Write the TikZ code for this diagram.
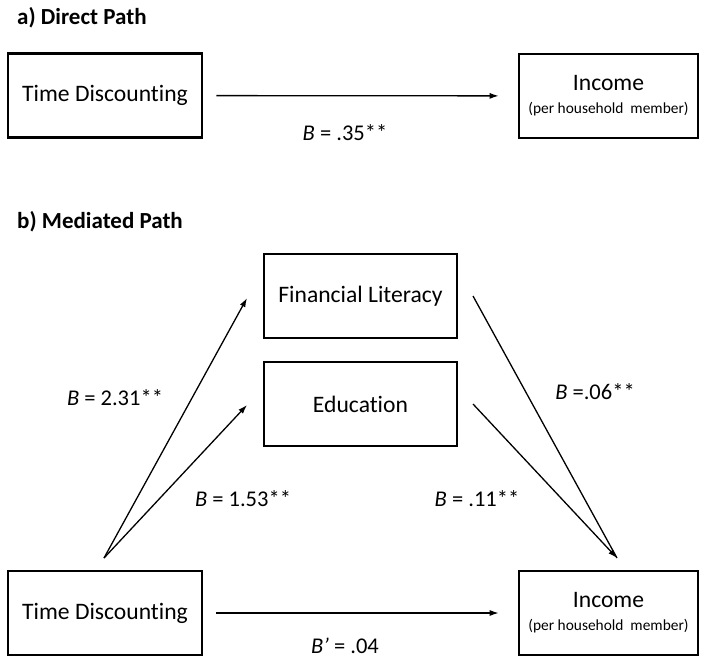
\documentclass[tikz,border=0pt]{standalone}
\usepackage{fontspec}
\setmainfont{Carlito}[Ligatures=NoCommon]
\usetikzlibrary{arrows.meta}
\newcommand{\subtxt}[1]{{\fontsize{15.4}{17}\selectfont #1}}
\begin{document}
\begin{tikzpicture}[x=1pt,y=-1pt,
  box/.style={draw,line width=2.6pt,minimum height=84pt,inner sep=0pt,align=center,font=\fontsize{23.6}{26}\selectfont},
  wbox/.style={box,minimum width=194pt},
  ibox/.style={box,minimum width=179pt},
  mbox/.style={box,minimum width=193pt},
  arr/.style={line width=1.3pt,-{Latex[length=9pt,width=6pt]}},
  plain/.style={line width=1.3pt},
  lab/.style={inner sep=0pt,font=\fontsize{22.5}{25}\selectfont},
  ttl/.style={inner sep=0pt,anchor=west,font=\bfseries\fontsize{23}{26}\selectfont}]
\useasboundingbox (0,0) rectangle (703,658);
% titles
\node[ttl] (ta) at (17,18) {a) Direct Path};
\node[ttl] (tb) at (17,222) {b) Mediated Path};
% a) direct path
\node[wbox] (TDa) at (105,95.5) {Time Discounting};
\node[ibox] (INa) at (608.5,96) {Income\\[-3pt]\subtxt{(per household\ \ member)}};
\draw[arr,shorten <=13pt,shorten >=19pt] (TDa) -- (INa);
\node[lab] (la) at (345,133) {\textit{B} = .35**};
% b) mediated path
\node[mbox] (FL) at (360.5,296) {Financial Literacy};
\node[mbox] (ED) at (360.5,404) {Education};
\node[wbox] (TDb) at (105,613) {Time Discounting};
\node[ibox] (INb) at (608.5,613) {Income\\[-3pt]\subtxt{(per household\ \ member)}};
\coordinate (o) at (104,558);
\coordinate (flin) at (247,298);
\coordinate (edin) at (247,405);
\coordinate (flout) at (473,296);
\coordinate (edout) at (473,404);
\coordinate (t) at (617,558);
\draw[arr] (o) -- (flin);
\draw[arr] (o) -- (edin);
\draw[plain] (flout) -- (t);
\draw[arr] (edout) -- (t);
\draw[arr,shorten <=13pt,shorten >=19pt] (TDb) -- (INb);
\node[lab] (l1) at (115,398) {\textit{B} = 2.31**};
\node[lab] (l2) at (243,499) {\textit{B} = 1.53**};
\node[lab] (l3) at (477,499) {\textit{B} = .11**};
\node[lab] (l4) at (595,392) {\textit{B} =.06**};
\node[lab] (l5) at (345,646) {\textit{B’} = .04};
\end{tikzpicture}
\end{document}
